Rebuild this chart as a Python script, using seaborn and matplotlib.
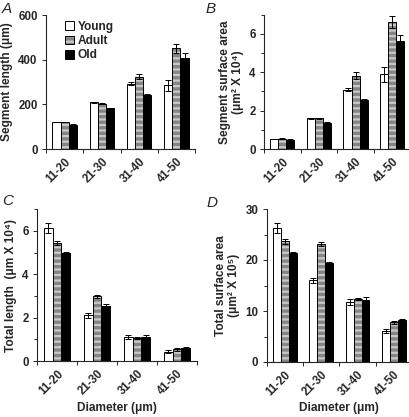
import numpy as np
import pandas as pd
import matplotlib
matplotlib.use("Agg")
import matplotlib.pyplot as plt
from matplotlib.colors import to_rgba
from matplotlib.container import BarContainer
from matplotlib.ticker import MultipleLocator
import seaborn as sns

# ---------------- data ----------------
diameters = ["11-20", "21-30", "31-40", "41-50"]
ages = ["Young", "Adult", "Old"]

seg_len_young = [121, 209, 292, 285]
seg_len_adult = [121, 203, 324, 451]
seg_len_old = [109, 183, 243, 407]
seg_len_err_young = [2, 3, 7, 25]
seg_len_err_adult = [2, 3, 12, 20]
seg_len_err_old = [2, 2, 4, 22]

seg_sa_young = [0.52, 1.61, 3.10, 3.90]
seg_sa_adult = [0.54, 1.60, 3.83, 6.64]
seg_sa_old = [0.49, 1.37, 2.55, 5.64]
seg_sa_err_young = [0.02, 0.03, 0.06, 0.40]
seg_sa_err_adult = [0.02, 0.03, 0.20, 0.32]
seg_sa_err_old = [0.02, 0.02, 0.04, 0.32]

tot_len_young = [6.14, 2.10, 1.10, 0.43]
tot_len_adult = [5.46, 2.98, 1.07, 0.54]
tot_len_old = [5.00, 2.56, 1.12, 0.60]
tot_len_err_young = [0.22, 0.12, 0.10, 0.08]
tot_len_err_adult = [0.10, 0.05, 0.05, 0.07]
tot_len_err_old = [0.02, 0.05, 0.10, 0.03]

tot_sa_young = [26.2, 16.0, 11.8, 6.0]
tot_sa_adult = [23.7, 23.2, 12.4, 7.8]
tot_sa_old = [21.4, 19.5, 12.1, 8.3]
tot_sa_err_young = [1.0, 0.5, 0.6, 0.4]
tot_sa_err_adult = [0.5, 0.4, 0.2, 0.3]
tot_sa_err_old = [0.1, 0.2, 0.6, 0.1]

ylabels = [
    "Segment length (\u03bcm)",
    "Segment surface area\n(\u03bcm\u00b2 X 10\u2074)",
    "Total length  (\u03bcm X 10\u2074)",
    "Total surface area\n(\u03bcm\u00b2 X 10\u2075)",
]
xlabel = "Diameter (\u03bcm)"
panel_letters = ["A", "B", "C", "D"]

panels = [
    ([seg_len_young, seg_len_adult, seg_len_old],
     [seg_len_err_young, seg_len_err_adult, seg_len_err_old], 600, 200, None),
    ([seg_sa_young, seg_sa_adult, seg_sa_old],
     [seg_sa_err_young, seg_sa_err_adult, seg_sa_err_old], 7, 2, 1),
    ([tot_len_young, tot_len_adult, tot_len_old],
     [tot_len_err_young, tot_len_err_adult, tot_len_err_old], 7, 2, 1),
    ([tot_sa_young, tot_sa_adult, tot_sa_old],
     [tot_sa_err_young, tot_sa_err_adult, tot_sa_err_old], 30, 10, 5),
]

# ---------------- style ----------------
sns.set_style("ticks")
plt.rcParams["font.family"] = ["Liberation Sans", "DejaVu Sans"]
plt.rcParams["font.weight"] = "bold"
plt.rcParams["axes.labelweight"] = "bold"
plt.rcParams["hatch.linewidth"] = 1.6
plt.rcParams["axes.linewidth"] = 0.8

W, H = 409, 417
fig = plt.figure(figsize=(W / 100, H / 100), dpi=100)

def frac(l, r, t, b):
    return [l / W, 1 - b / H, (r - l) / W, (b - t) / H]

boxes = [(46, 195, 15, 149), (264, 410.5, 14.8, 149),
         (37, 197, 209.3, 361), (266.7, 412, 209, 362)]
rects = [frac(*b) for b in boxes]

face = {"Young": "white", "Adult": "#858585", "Old": "black"}
stripe = to_rgba("#c8c8c8")
TICK_FS = 8.3
LAB_FS = 8.6
XLABEL_Y = 408  # pixel row of x-label centre

for k, (vals, errs, ymax, major, minor) in enumerate(panels):
    ax = fig.add_axes(rects[k])
    df = pd.DataFrame({
        "diam": np.repeat([diameters], 3, axis=0).ravel(),
        "age": np.repeat(ages, len(diameters)),
        "val": np.concatenate(vals),
    })
    sns.barplot(data=df, x="diam", y="val", hue="age", hue_order=ages,
                order=diameters, palette=face, width=0.66, gap=0,
                errorbar=None, edgecolor="black", linewidth=0.7,
                legend=False, ax=ax)
    bar_conts = [c for c in ax.containers if isinstance(c, BarContainer)]
    for ci, cont in enumerate(bar_conts):
        xs, ys = [], []
        for bar in cont.patches:
            if ages[ci] == "Adult":
                bar.set_hatch("---")
                bar.set_edgecolor("black")
                bar._hatch_color = stripe
            xs.append(bar.get_x() + bar.get_width() / 2)
            ys.append(bar.get_height())
        ax.errorbar(xs, ys, yerr=errs[ci], fmt="none", ecolor="black",
                    elinewidth=0.7, capsize=2.2, capthick=0.7, zorder=5)
    ax.set_xlim(-0.5, len(diameters) - 0.5)
    ax.set_ylim(0, ymax)
    ax.yaxis.set_major_locator(MultipleLocator(major))
    if minor:
        ax.yaxis.set_minor_locator(MultipleLocator(minor))
    ax.set_xticks(range(len(diameters)))
    ax.set_xticks(np.arange(-0.5, len(diameters), 1.0), minor=True)
    ax.tick_params(axis="x", which="major", length=0, pad=5)
    ax.tick_params(axis="x", which="minor", length=3, width=0.7, direction="out")
    ax.tick_params(axis="y", which="major", length=3, width=0.7, pad=3,
                   labelsize=TICK_FS)
    ax.tick_params(axis="y", which="minor", length=2, width=0.7)
    ax.set_xticklabels(diameters, rotation=45, ha="right",
                       rotation_mode="anchor", fontsize=TICK_FS,
                       fontweight="bold")
    for t in ax.get_yticklabels():
        t.set_fontweight("bold")
    sns.despine(ax=ax)
    ax.set_ylabel(ylabels[k], fontsize=LAB_FS, fontweight="bold", labelpad=4,
                  linespacing=1.1)
    if k >= 2:
        ax.set_xlabel(xlabel, fontsize=LAB_FS, fontweight="bold")
        l, r, t, b = boxes[k]
        ax.xaxis.set_label_coords(0.5, -(XLABEL_Y - b) / (b - t))
        ax.xaxis.label.set_va("center")
    else:
        ax.set_xlabel("")
    if k == 0:
        handles = [c.patches[0] for c in bar_conts]
        ax.legend(handles, ages, loc="upper left",
                  bbox_to_anchor=(0.07, 1.02), frameon=False,
                  handlelength=0.75, handleheight=0.75,
                  handletextpad=0.3, labelspacing=0.2,
                  borderaxespad=0.3,
                  prop={"size": LAB_FS, "weight": "bold"})

letter_pos = [(2, 2), (206, 2), (2, 194), (207, 196)]
for letter, (x, y) in zip(panel_letters, letter_pos):
    fig.text(x / W, 1 - y / H, letter, fontsize=11, style="italic",
             fontweight="normal", ha="left", va="top")

fig.savefig("out.png", dpi=100)
